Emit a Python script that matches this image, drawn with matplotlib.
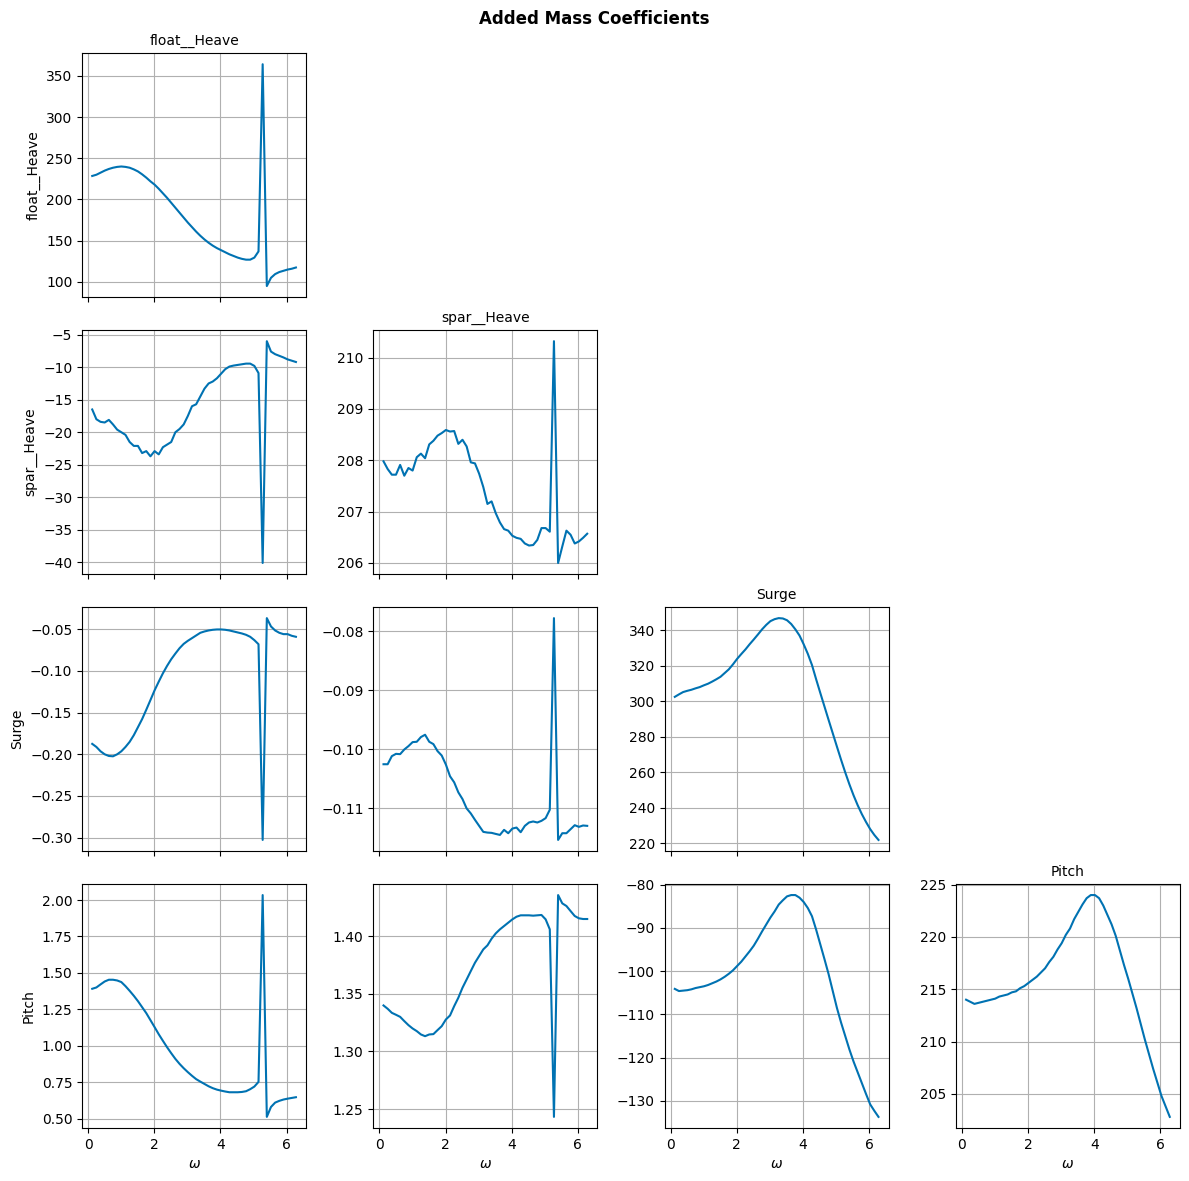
import numpy as np
from matplotlib import pyplot as plt

# frequency grid (rad/s)
omega = np.linspace(2 * np.pi / 50, 2 * np.pi, 50)

dofs = ['float__Heave', 'spar__Heave', 'Surge', 'Pitch']

float_heave = [228.5, 230, 232.5, 235, 237, 238.5, 239.5, 240, 239.5, 238.5,
               236.5, 234, 230.5, 226.5, 222, 218, 213, 207.5, 202, 196,
               190, 184, 178, 172, 166.5, 161, 156, 151.5, 147.5, 144,
               141, 138.5, 136, 133.5, 131.5, 129.5, 128, 127, 127, 129.5,
               137, 364, 95, 105, 109.5, 112, 113.5, 115, 116, 117.5]

spar_float = [-16.5, -18.0, -18.4, -18.5, -18.1, -18.8, -19.6, -20.0, -20.4, -21.5,
              -22.1, -22.1, -23.2, -22.9, -23.7, -22.9, -23.4, -22.3, -21.9, -21.5,
              -20.0, -19.5, -18.8, -17.5, -16.0, -15.7, -14.5, -13.3, -12.5, -12.2,
              -11.7, -11.0, -10.3, -9.9, -9.75, -9.65, -9.55, -9.45, -9.45, -9.8,
              -10.9, -40.1, -6.0, -7.6, -8.0, -8.25, -8.5, -8.8, -9.0, -9.2]

spar_heave = [207.98, 207.83, 207.72, 207.72, 207.91, 207.70, 207.85, 207.80, 208.06, 208.13,
              208.04, 208.31, 208.38, 208.48, 208.53, 208.59, 208.56, 208.57, 208.32, 208.40,
              208.27, 207.96, 207.94, 207.74, 207.48, 207.15, 207.20, 206.97, 206.79, 206.66,
              206.63, 206.53, 206.49, 206.47, 206.38, 206.34, 206.35, 206.45, 206.68, 206.68,
              206.61, 210.32, 206.00, 206.32, 206.63, 206.55, 206.38, 206.42, 206.49, 206.57]

surge_float = [-0.1876, -0.1913, -0.1965, -0.2001, -0.2021, -0.2025, -0.2001, -0.1965, -0.1913, -0.1852,
               -0.1772, -0.1676, -0.1579, -0.1467, -0.1351, -0.1234, -0.1130, -0.1030, -0.0941, -0.0861,
               -0.0793, -0.0729, -0.0677, -0.0640, -0.0608, -0.0576, -0.0544, -0.0528, -0.0516, -0.0508,
               -0.0504, -0.0504, -0.0508, -0.0516, -0.0528, -0.0540, -0.0552, -0.0568, -0.0592, -0.0632,
               -0.0681, -0.3028, -0.0368, -0.0468, -0.0516, -0.0544, -0.0560, -0.0560, -0.0580, -0.0592]

surge_spar = [-0.10256, -0.10256, -0.10119, -0.10080, -0.10085, -0.10006, -0.09949, -0.09881, -0.09875, -0.09795,
              -0.09756, -0.09875, -0.09915, -0.10034, -0.10108, -0.10261, -0.10460, -0.10563, -0.10733, -0.10847,
              -0.11006, -0.11091, -0.11199, -0.11301, -0.11403, -0.11415, -0.11420, -0.11438, -0.11455, -0.11369,
              -0.11426, -0.11347, -0.11330, -0.11409, -0.11301, -0.11244, -0.11227, -0.11244, -0.11216, -0.11170,
              -0.11028, -0.07778, -0.11540, -0.11426, -0.11426, -0.11358, -0.11290, -0.11318, -0.11295, -0.11301]

surge_surge = [302.4, 303.8, 305.1, 305.8, 306.4, 307.2, 307.9, 308.9, 309.8, 311.0,
               312.3, 313.7, 315.8, 317.9, 320.7, 323.8, 326.5, 329.1, 332.0, 334.7,
               337.5, 340.4, 342.9, 345.0, 346.1, 346.7, 346.5, 345.5, 343.4, 340.4,
               336.9, 332.0, 326.6, 320.3, 312.3, 304.6, 297.0, 289.4, 281.9, 274.4,
               267.0, 259.9, 253.2, 247.0, 241.4, 236.4, 232.0, 228.0, 224.7, 221.9]

pitch_float = [1.391, 1.400, 1.421, 1.441, 1.453, 1.453, 1.448, 1.437, 1.409, 1.377,
               1.343, 1.306, 1.265, 1.224, 1.176, 1.128, 1.079, 1.034, 0.990, 0.949,
               0.910, 0.876, 0.846, 0.819, 0.794, 0.771, 0.754, 0.738, 0.722, 0.709,
               0.699, 0.692, 0.686, 0.681, 0.681, 0.681, 0.683, 0.688, 0.702, 0.720,
               0.752, 2.034, 0.512, 0.580, 0.610, 0.622, 0.631, 0.637, 0.642, 0.647]

pitch_spar = [1.3400, 1.3371, 1.3336, 1.3319, 1.3301, 1.3264, 1.3229, 1.3200, 1.3177, 1.3148,
              1.3133, 1.3148, 1.3151, 1.3186, 1.3220, 1.3278, 1.3313, 1.3394, 1.3467, 1.3554,
              1.3626, 1.3699, 1.3771, 1.3829, 1.3887, 1.3922, 1.3980, 1.4026, 1.4061, 1.4090,
              1.4119, 1.4148, 1.4171, 1.4183, 1.4183, 1.4183, 1.4180, 1.4183, 1.4186, 1.4148,
              1.4061, 1.2432, 1.4359, 1.4287, 1.4264, 1.4220, 1.4177, 1.4157, 1.4151, 1.4151]

pitch_surge = [-104.1, -104.6, -104.5, -104.4, -104.2, -103.9, -103.7, -103.5, -103.2, -102.8,
               -102.4, -101.9, -101.3, -100.6, -99.8, -98.8, -97.8, -96.6, -95.4, -94.1,
               -92.5, -90.8, -89.2, -87.6, -86.2, -84.6, -83.6, -82.7, -82.4, -82.4,
               -83.0, -84.0, -85.4, -87.3, -90.4, -93.8, -97.2, -100.7, -104.6, -108.5,
               -111.9, -115.0, -118.1, -120.9, -123.4, -125.9, -128.4, -130.8, -132.3, -133.7]

pitch_pitch = [214.0, 213.8, 213.6, 213.7, 213.8, 213.9, 214.0, 214.1, 214.3, 214.4,
               214.5, 214.7, 214.8, 215.1, 215.3, 215.6, 215.9, 216.2, 216.6, 217.0,
               217.6, 218.1, 218.8, 219.4, 220.2, 220.8, 221.7, 222.4, 223.1, 223.7,
               224.0, 224.0, 223.7, 223.0, 222.1, 221.2, 220.1, 218.7, 217.3, 216.0,
               214.6, 213.2, 211.7, 210.2, 208.8, 207.4, 206.1, 204.8, 203.8, 202.8]

coeffs = {
    (0, 0): float_heave,
    (1, 0): spar_float, (1, 1): spar_heave,
    (2, 0): surge_float, (2, 1): surge_spar, (2, 2): surge_surge,
    (3, 0): pitch_float, (3, 1): pitch_spar, (3, 2): pitch_surge, (3, 3): pitch_pitch,
}

fig, axes = plt.subplots(4, 4, figsize=(11.89, 11.81), dpi=100, sharex=True)

for i in range(4):
    for j in range(4):
        ax = axes[i, j]
        if j > i:
            ax.axis('off')
            continue
        ax.plot(omega, coeffs[(i, j)], color='#0072B2')
        ax.grid(True)
        if i == j:
            ax.set_title(dofs[i], fontsize=10)
        if j == 0:
            ax.set_ylabel(dofs[i])
        if i == 3:
            ax.set_xlabel(r'$\omega$')
        else:
            ax.tick_params(labelbottom=False)

fig.suptitle('Added Mass Coefficients', fontweight='bold', y=0.9915)
fig.subplots_adjust(left=0.069, right=0.9924, top=0.955, bottom=0.0449,
                    wspace=0.30, hspace=0.135)
fig.savefig('out.png')
